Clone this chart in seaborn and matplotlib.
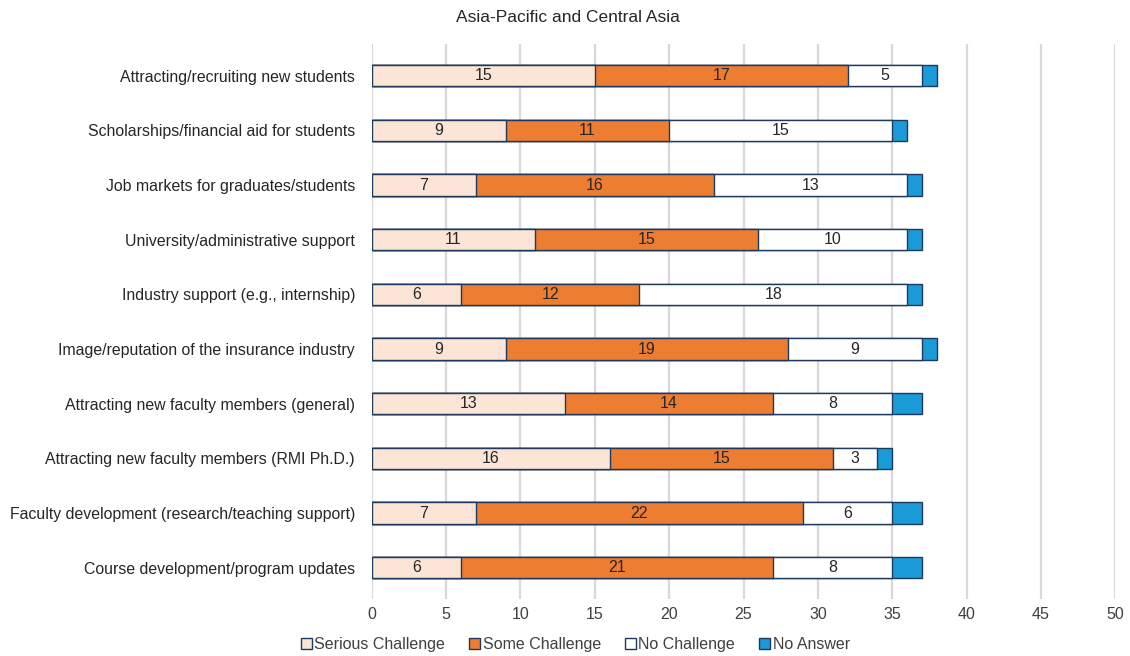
import matplotlib
matplotlib.use("Agg")
import matplotlib.pyplot as plt
from matplotlib.patches import Patch
import numpy as np
import pandas as pd
import seaborn as sns

categories = [
    "Attracting/recruiting new students",
    "Scholarships/financial aid for students",
    "Job markets for graduates/students",
    "University/administrative support",
    "Industry support (e.g., internship)",
    "Image/reputation of the insurance industry",
    "Attracting new faculty members (general)",
    "Attracting new faculty members (RMI Ph.D.)",
    "Faculty development (research/teaching support)",
    "Course development/program updates",
]
serious = [15, 9, 7, 11, 6, 9, 13, 16, 7, 6]
some = [17, 11, 16, 15, 12, 19, 14, 15, 22, 21]
no_challenge = [5, 15, 13, 10, 18, 9, 8, 3, 6, 8]
no_answer = [1, 1, 1, 1, 1, 1, 2, 1, 2, 2]

series_names = ["Serious Challenge", "Some Challenge", "No Challenge", "No Answer"]
series_colors = ["#FCE4D6", "#ED7D31", "#FFFFFF", "#1A9AD6"]
edge = "#1F3A5F"

sns.set_theme(style="white")
plt.rcParams["font.family"] = ["Liberation Sans", "DejaVu Sans"]

df = pd.DataFrame({
    "category": categories,
    "Serious Challenge": serious,
    "Some Challenge": some,
    "No Challenge": no_challenge,
    "No Answer": no_answer,
})
cum = df[series_names].cumsum(axis=1)

fig = plt.figure(figsize=(11.3, 6.56), dpi=100)
ax = fig.add_axes([0.329, 0.087, 0.658, 0.846])

# stacked bars: draw cumulative totals from the outermost segment inward
for name, color in reversed(list(zip(series_names, series_colors))):
    sns.barplot(data=cum.assign(category=categories), x=name, y="category",
                color=color, edgecolor=edge, linewidth=1.0, width=0.39,
                saturation=1, ax=ax, orient="h")

# segment value labels (not for the thin "No Answer" segment)
for i in range(len(categories)):
    left = 0
    for name in series_names:
        v = df.loc[i, name]
        if name != "No Answer":
            ax.text(left + v / 2, i, str(v), ha="center", va="center",
                    fontsize=11.5, color="#262626")
        left += v

ax.set_xlim(0, 50)
ax.set_xticks(np.arange(0, 51, 5))
ax.set_ylim(len(categories) - 0.43, -0.58)
ax.set_xlabel("")
ax.set_ylabel("")
ax.tick_params(axis="x", labelsize=11.5, colors="#404040", length=0, pad=6)
ax.tick_params(axis="y", labelsize=11.4, colors="#262626", length=0, pad=12)
for s in ax.spines.values():
    s.set_visible(False)
ax.xaxis.grid(True, color="#D9D9D9", linewidth=1.6)
ax.set_axisbelow(True)

fig.text(0.503, 0.973, "Asia-Pacific and Central Asia", ha="center", va="center",
         fontsize=12.5, color="#262626")

handles = [Patch(facecolor=c, edgecolor=edge, linewidth=1.0) for c in series_colors]
fig.legend(handles, series_names, loc="center", bbox_to_anchor=(0.509, 0.017),
           ncol=4, frameon=False, fontsize=11.5, handlelength=0.7, handleheight=0.7,
           handletextpad=0.15, columnspacing=1.5, labelcolor="#404040")

fig.savefig("out.png", dpi=100, facecolor="white")
